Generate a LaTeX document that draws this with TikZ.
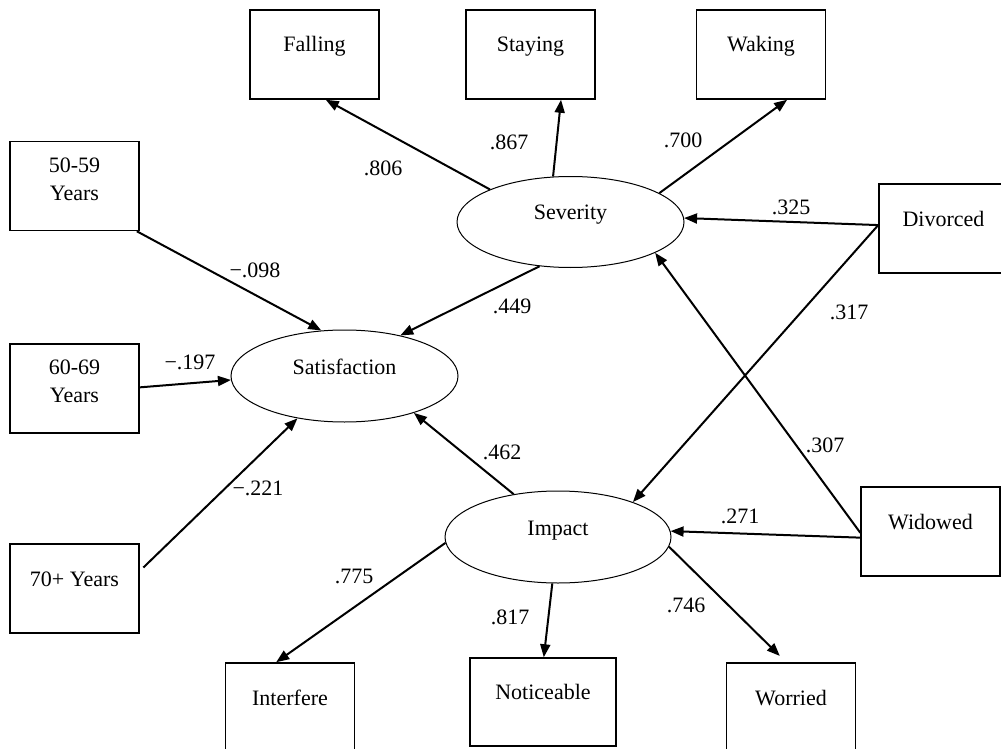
\documentclass[tikz,border=0pt]{standalone}
\usepackage{fontspec}
\setmainfont{Liberation Serif}
\usetikzlibrary{shapes.geometric, arrows.meta}

\begin{document}
\begin{tikzpicture}[x=0.5pt, y=-0.5pt, font=\fontsize{11pt}{14pt}\selectfont,
        >={Triangle[length=6.5pt, width=5pt]},
        obsbox/.style={rectangle, draw, line width=0.75pt, minimum width=64.5pt, minimum height=44.5pt, inner sep=0pt, text height=0pt, text depth=2.5pt},
        latent/.style={ellipse, draw, line width=0.5pt, minimum width=113.5pt, minimum height=45.5pt, inner sep=0pt, text height=0pt, text depth=2pt},
        coef/.style={inner sep=0pt},
        link/.style={->, line width=1pt}]
            \useasboundingbox (0,0) rectangle (1001,749);

            \node[latent] (sev) at (570.5,222) {Severity};
            \node[latent, minimum height=46pt] (sat) at (344.5,376) {Satisfaction};
            \node[latent, minimum width=113pt, minimum height=46pt] (imp) at (558,537) {Impact};

            \node[obsbox] (fall) at (314.5,54.5) {Falling};
            \node[obsbox] (stay) at (530.5,54.5) {Staying};
            \node[obsbox] (wake) at (761,54.5) {Waking};
            \node[obsbox, align=center, text height=14pt, text depth=0pt] (y50) at (74.5,186) {50-59\\Years};
            \node[obsbox, align=center, text height=14pt, text depth=0pt] (y60) at (74.5,388.5) {60-69\\Years};
            \node[obsbox] (y70) at (74.5,588.5) {70+ Years};
            \node[obsbox] (div) at (943.5,228.5) {Divorced};
            \node[obsbox, minimum width=69.5pt] (wid) at (930.5,531.5) {Widowed};
            \node[obsbox] (intf) at (290,707.5) {Interfere};
            \node[obsbox, minimum width=73pt, minimum height=44pt] (noti) at (543,702) {Noticeable};
            \node[obsbox] (worr) at (791,707.5) {Worried};

            \draw[link] (sev.158) -- (fall.-76);
            \draw[link] (sev.111) -- (stay.-56);
            \draw[link] (sev.18) -- (wake.-60);
            \draw[link] (sev.-125) -- (sat.36);
            \draw[link] (div.177) -- (sev.2);
            \draw[link] (div.177) -- (imp.25);
            \draw[link] (wid.181) -- (sev.-20);
            \draw[link] (wid.185) -- (imp.3);
            \draw[link] (y50.-36) -- (sat.117);
            \draw[link] (y60.1) -- (sat.182);
            \draw[link, shorten <=2.5pt] (y70.15) -- (sat.222);
            \draw[link] (imp.136) -- (sat.-28);
            \draw[link] (imp.183) -- (intf.107);
            \draw[link] (imp.-97) -- (noti.89);
            \draw[link, shorten >=4.5pt] (imp.-5) -- (worr.96);

            \node[coef] (w806) at (383,168) {.806};
            \node[coef] (w867) at (509,142) {.867};
            \node[coef] (w700) at (683,140) {.700};
            \node[coef] (w325) at (791,207) {.325};
            \node[coef] (w317) at (849,312) {.317};
            \node[coef] (w307) at (825,445) {.307};
            \node[coef] (w271) at (740,516) {.271};
            \node[coef] (w449) at (512,306) {.449};
            \node[coef] (w462) at (502,452) {.462};
            \node[coef] (w098) at (255,270) {−.098};
            \node[coef] (w197) at (190,362) {−.197};
            \node[coef] (w221) at (258,488) {−.221};
            \node[coef] (w775) at (354,576) {.775};
            \node[coef] (w817) at (510,617) {.817};
            \node[coef] (w746) at (686,605) {.746};
        \end{tikzpicture}
\end{document}
